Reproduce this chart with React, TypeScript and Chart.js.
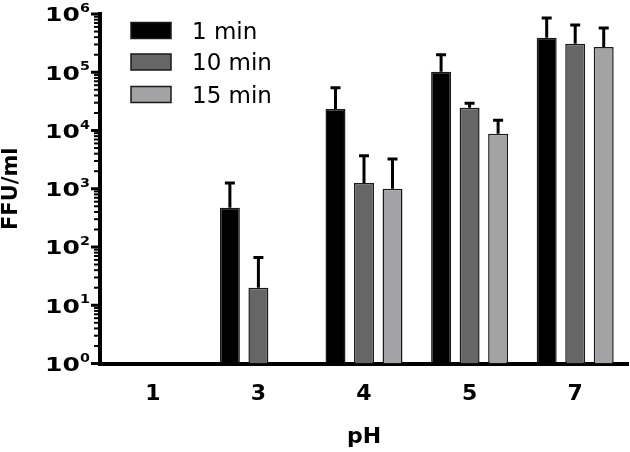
import React, { useEffect, useRef } from "react";
import { Chart, registerables } from "chart.js";

Chart.register(...registerables);

// ---- data ----
const categories = ["1", "3", "4", "5", "7"];
const seriesLabels = ["1 min", "10 min", "15 min"];
const min1Values = [null, 470, 23500, 102000, 390000];
const min10Values = [null, 20, 1260, 24500, 310000];
const min15Values = [null, null, 1000, 8800, 270000];
// upper ends of the error bars
const min1ErrTop = [null, 1260, 54000, 200000, 850000];
const min10ErrTop = [null, 66, 3700, 29500, 650000];
const min15ErrTop = [null, null, 3250, 15000, 575000];
const yExponents = [0, 1, 2, 3, 4, 5, 6];

const seriesColors = ["#000000", "#666666", "#a3a3a6"];
const FONT = "DejaVu Sans";

const errorBarPlugin = {
  id: "errorBars",
  afterDatasetsDraw(chart: any) {
    const ctx = chart.ctx;
    const ys = chart.scales.y;
    chart.data.datasets.forEach((ds: any, di: number) => {
      const meta = chart.getDatasetMeta(di);
      meta.data.forEach((bar: any, i: number) => {
        const v = ds.data[i];
        const e = ds.errTop ? ds.errTop[i] : null;
        if (v == null || e == null) return;
        const top = ys.getPixelForValue(e);
        ctx.save();
        ctx.strokeStyle = "#000";
        ctx.lineWidth = 3;
        ctx.beginPath();
        ctx.moveTo(bar.x, bar.y);
        ctx.lineTo(bar.x, top);
        ctx.moveTo(bar.x - 5, top);
        ctx.lineTo(bar.x + 5, top);
        ctx.stroke();
        ctx.restore();
      });
    });
  },
};

const axisDecorPlugin = {
  id: "axisDecor",
  afterDraw(chart: any) {
    const ctx = chart.ctx;
    const ys = chart.scales.y;
    const axisX = chart.chartArea.left - 2;
    ctx.save();
    ctx.fillStyle = "#000";
    // minor ticks
    for (let e = 0; e < 6; e++) {
      for (let k = 2; k <= 9; k++) {
        const y = ys.getPixelForValue(k * Math.pow(10, e));
        ctx.fillRect(axisX - 4, y - 1, 4, 2);
      }
    }
    // major ticks + labels
    yExponents.forEach((e) => {
      const y = ys.getPixelForValue(Math.pow(10, e));
      ctx.fillRect(axisX - 7, y - 1.5, 7, 3);
      ctx.textAlign = "left";
      ctx.textBaseline = "alphabetic";
      ctx.font = `bold 20px "${FONT}"`;
      ctx.save();
      ctx.translate(45, y + 7.3);
      ctx.scale(1.25, 1);
      ctx.fillText("10", 0, 0);
      ctx.restore();
      ctx.font = `bold 13px "${FONT}"`;
      ctx.save();
      ctx.translate(80, y - 1.8);
      ctx.scale(1.1, 1);
      ctx.fillText(String(e), 0, 0);
      ctx.restore();
    });
    // legend
    const legendY = [30.5, 62, 94.5];
    seriesLabels.forEach((lab, i) => {
      const cy = legendY[i];
      ctx.fillStyle = seriesColors[i];
      ctx.fillRect(131, cy - 8, 40, 16);
      ctx.strokeStyle = "#1a1a1a";
      ctx.lineWidth = 1.5;
      ctx.strokeRect(131, cy - 8, 40, 16);
      ctx.fillStyle = "#000";
      ctx.font = `23px "${FONT}"`;
      ctx.textAlign = "left";
      ctx.textBaseline = "alphabetic";
      ctx.fillText(lab, 192, cy + 8.4);
    });
    ctx.restore();
  },
};

export default function App() {
  const canvasRef = useRef<HTMLCanvasElement | null>(null);

  useEffect(() => {
    if (!canvasRef.current) return;
    const mk = (label: string, data: any[], err: any[], color: string) => ({
      label,
      data,
      errTop: err,
      backgroundColor: color,
      borderColor: "#1a1a1a",
      borderWidth: 1.5,
      categoryPercentage: 0.81,
      barPercentage: 0.7,
    });
    const chart = new Chart(canvasRef.current, {
      type: "bar",
      data: {
        labels: categories,
        datasets: [
          mk(seriesLabels[0], min1Values, min1ErrTop, seriesColors[0]),
          mk(seriesLabels[1], min10Values, min10ErrTop, seriesColors[1]),
          mk(seriesLabels[2], min15Values, min15ErrTop, seriesColors[2]),
        ] as any,
      },
      options: {
        animation: false,
        responsive: false,
        layout: { padding: { top: 14, right: 2, left: 0, bottom: 0 } },
        plugins: { legend: { display: false }, tooltip: { enabled: false } },
        scales: {
          x: {
            grid: { display: false, drawTicks: false },
            border: { display: true, width: 4, color: "#000" },
            ticks: {
              color: "#000",
              font: { family: FONT, size: 22, weight: "bold" },
              padding: 18,
            },
            title: {
              display: true,
              text: "pH",
              color: "#000",
              font: { family: FONT, size: 22, weight: "bold", lineHeight: 1 },
              padding: { top: 0, bottom: 4 },
            },
            afterFit: (s: any) => {
              s.height = 88.5;
            },
          },
          y: {
            type: "logarithmic",
            min: 1,
            max: 1000000,
            grid: { display: false, drawTicks: false },
            border: { display: true, width: 4, color: "#000" },
            ticks: { display: false },
            title: {
              display: true,
              text: "FFU/ml",
              color: "#000",
              font: { family: FONT, size: 21, weight: "bold", lineHeight: 1 },
              padding: { top: 1, bottom: 0 },
            },
            afterFit: (s: any) => {
              s.width = 100;
            },
          },
        },
      } as any,
      plugins: [errorBarPlugin, axisDecorPlugin],
    });
    return () => chart.destroy();
  }, []);

  return (
    <div style={{ position: "fixed", left: 0, top: 0, width: 630, height: 452, background: "#fff" }}>
      <canvas ref={canvasRef} width={630} height={452} />
    </div>
  );
}
